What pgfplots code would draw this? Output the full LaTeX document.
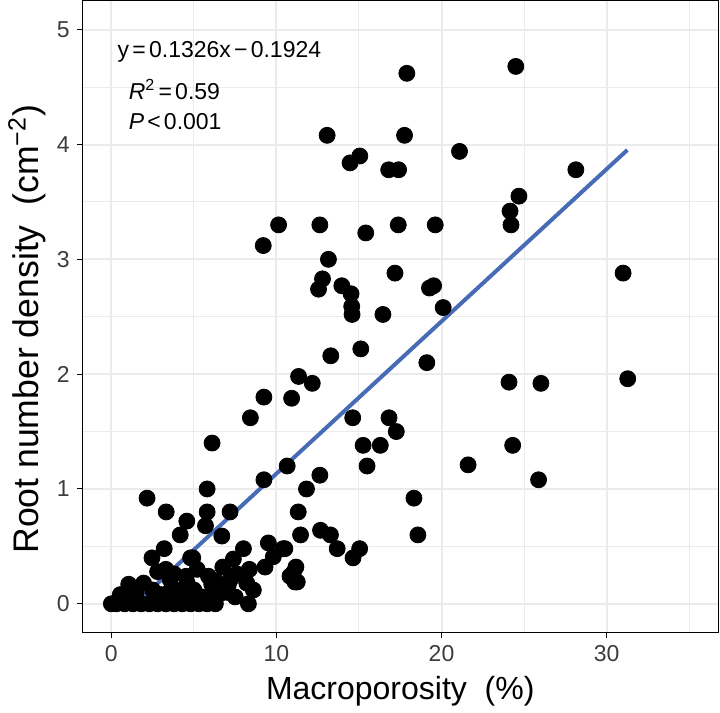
\documentclass[border=0pt]{standalone}
\usepackage{pgfplots}
\pgfplotsset{compat=1.18}
\usepackage{fontspec}
\setmainfont{Liberation Sans}
\definecolor{gridgrey}{RGB}{235,235,235}
\definecolor{fitblue}{RGB}{72,107,183}
\definecolor{ticktext}{RGB}{60,60,60}
\newcommand{\gap}{\hspace{0.14em}}

\pgfplotstableread{
x y
17.90 4.62
24.50 4.68
13.07 4.08
17.76 4.08
21.09 3.94
15.05 3.90
14.46 3.84
16.80 3.78
17.40 3.78
28.14 3.78
24.69 3.55
24.15 3.42
10.13 3.30
12.63 3.30
17.38 3.30
19.62 3.30
24.21 3.30
15.41 3.23
9.20 3.12
13.15 3.00
17.18 2.88
31.00 2.88
12.79 2.83
12.55 2.74
13.96 2.77
14.52 2.70
19.27 2.75
19.52 2.77
14.56 2.59
14.58 2.52
16.45 2.52
20.10 2.58
15.11 2.22
13.29 2.16
19.11 2.10
11.34 1.98
12.17 1.92
24.09 1.93
26.02 1.92
31.28 1.96
9.24 1.80
10.92 1.79
8.42 1.62
14.62 1.62
16.82 1.62
17.26 1.50
6.10 1.40
15.25 1.38
16.29 1.38
24.31 1.38
21.61 1.21
10.65 1.20
15.49 1.20
12.63 1.12
9.24 1.08
25.88 1.08
5.80 1.00
11.82 1.00
2.16 0.92
18.33 0.92
3.32 0.80
5.80 0.80
7.19 0.80
11.32 0.80
4.57 0.72
5.70 0.68
4.17 0.60
6.69 0.59
11.46 0.60
12.67 0.64
13.27 0.60
18.57 0.60
9.51 0.53
3.20 0.48
8.00 0.48
10.41 0.48
10.51 0.48
13.68 0.48
15.04 0.48
2.46 0.40
4.93 0.40
7.39 0.39
9.81 0.41
14.64 0.40
9.31 0.32
6.75 0.32
8.36 0.30
11.18 0.32
11.02 0.27
10.82 0.24
5.88 0.24
4.53 0.24
11.12 0.19
11.26 0.19
6.08 0.17
7.09 0.17
8.20 0.18
8.60 0.12
8.30 0.00
3.56 0.21
4.17 0.12
1.05 0.17
1.95 0.18
0.54 0.08
0.00 0.00
0.30 0.00
0.80 0.00
1.30 0.00
1.80 0.00
2.30 0.00
2.80 0.00
3.30 0.00
3.80 0.00
4.30 0.00
4.80 0.00
5.30 0.00
5.80 0.00
6.30 0.00
1.00 0.08
1.50 0.10
2.50 0.12
3.00 0.08
3.50 0.10
4.50 0.08
5.00 0.12
5.50 0.06
6.50 0.08
7.00 0.10
7.50 0.06
2.80 0.28
3.30 0.30
3.80 0.26
5.20 0.30
6.30 0.20
7.60 0.26
7.20 0.21
6.20 0.12
4.60 0.18
4.80 0.40
}\pointdata

\begin{document}
\begin{tikzpicture}
\begin{axis}[
  name=ax,
  scale only axis,
  width=317.75pt, height=315.75pt,
  xmin=-1.75, xmax=36.75,
  ymin=-0.25, ymax=5.25,
  clip=false,
  axis line style={black, line width=0.5pt},
  xtick={0,10,20,30},
  ytick={0,1,2,3,4,5},
  minor xtick={5,15,25,35},
  minor ytick={0.5,1.5,2.5,3.5,4.5},
  grid=both,
  major grid style={gridgrey, line width=1pt},
  minor grid style={gridgrey, line width=0.5pt},
  tick align=outside,
  major tick length=2.85pt,
  minor tick length=0pt,
  tick style={black, line width=0.5pt},
  xtick pos=bottom, ytick pos=left,
  tick label style={font=\fontsize{11.5}{13}\selectfont, text=ticktext},
  /pgf/number format/assume math mode=true,
]
\addplot[only marks, mark=*, mark size=4pt, black] table[x=x, y=y] {\pointdata};
\addplot[fitblue, line width=2pt] coordinates {(1.65,0.0264) (31.26,3.9527)};

\node[anchor=west, inner sep=0pt, font=\fontsize{11.5}{13}\selectfont] at (axis cs:0.36,4.805) {y\gap=\gap0.1326x\gap\textminus\gap0.1924};
\node[anchor=west, inner sep=0pt, font=\fontsize{11.5}{13}\selectfont] at (axis cs:1.03,4.48) {\textit{R}\textsuperscript{2}\gap=\gap0.59};
\node[anchor=west, inner sep=0pt, font=\fontsize{11.5}{13}\selectfont] at (axis cs:1.03,4.197) {\textit{P}\gap<\gap0.001};

\node[anchor=base, font=\fontsize{16}{19}\selectfont] at ([yshift=-33.75pt]axis description cs:0.5,0) {Macroporosity\ \ (\%)};
\node[xshift=-27.75pt, yshift=-6.25pt, rotate=90, anchor=center, font=\fontsize{17.8}{20}\selectfont] at (axis description cs:0,0.5) {Root number density\ \ (cm\textsuperscript{\textminus2})};
\end{axis}
\pgfresetboundingbox
\useasboundingbox ([shift={(-41.25pt,-40.25pt)}]ax.south west) rectangle ([shift={(1pt,0.5pt)}]ax.north east);
\end{tikzpicture}
\end{document}
